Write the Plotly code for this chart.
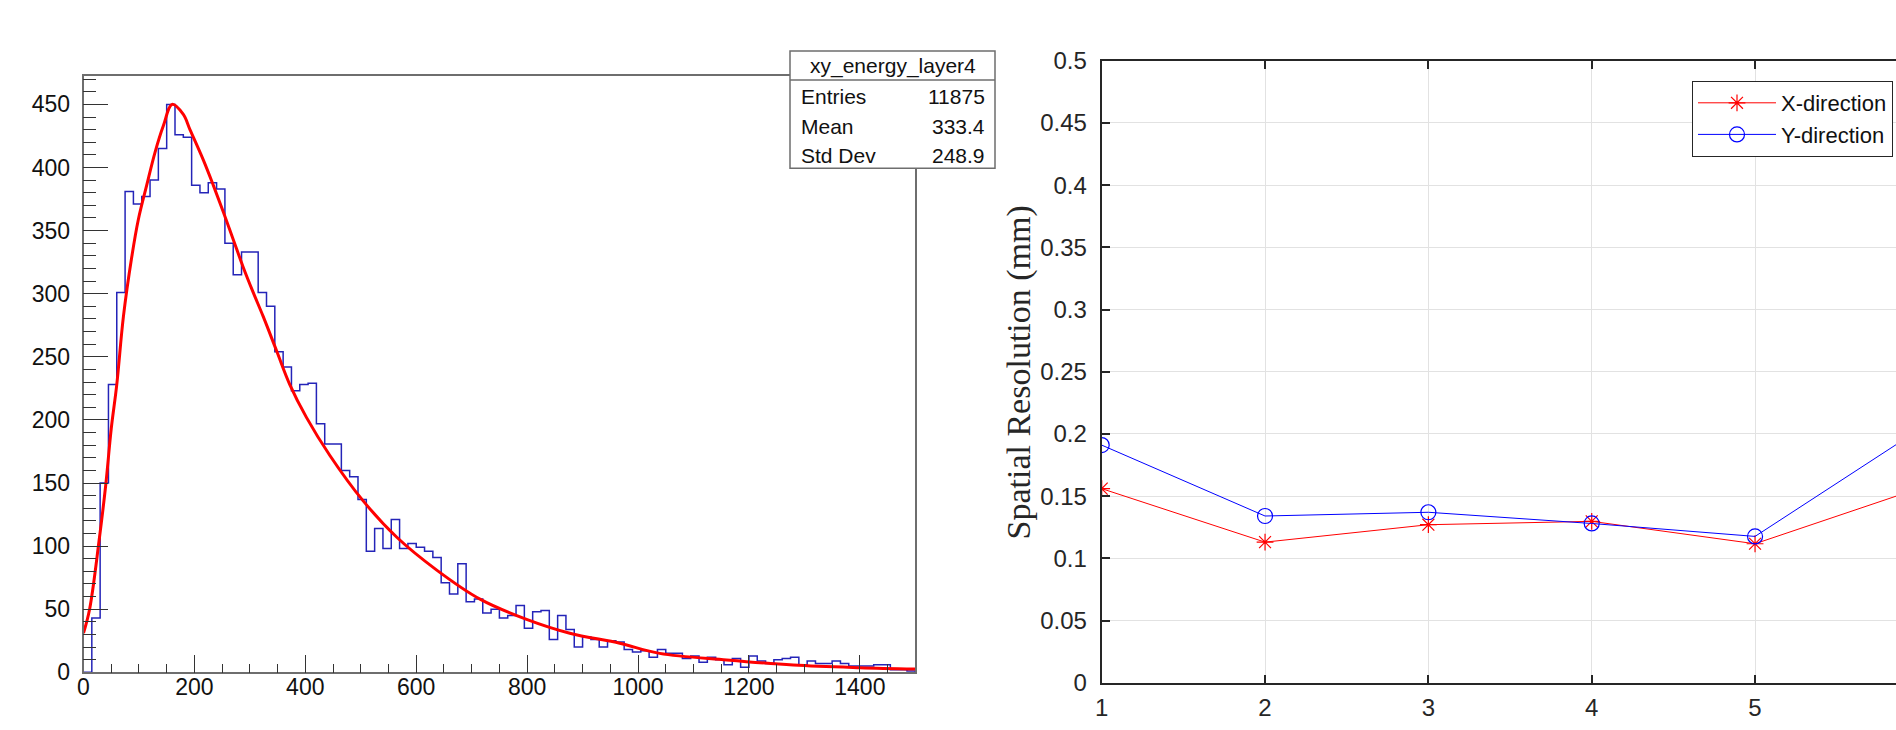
import numpy as np
import plotly.graph_objects as go

W, H = 1896, 730

# ---------------- left panel: ROOT histogram ----------------
hist_range = (0, 1500)
counts = [0, 43, 150, 228, 301, 381, 371, 377, 390, 415,
          450, 426, 424, 386, 380, 388, 383, 340, 315, 333,
          333, 301, 290, 254, 242, 223, 228, 229, 197, 181,
          181, 160, 155, 137, 96, 114, 98, 121, 98, 102,
          99, 96, 91, 71, 62, 86, 56, 58, 47, 50,
          43, 45, 53, 35, 48, 49, 26, 45, 34, 20,
          28, 26, 20, 25, 24, 18, 16, 17, 12, 18,
          15, 15, 11, 13, 8, 12, 10, 6, 11, 4,
          13, 9, 7, 10, 11, 12, 6, 9, 7, 7,
          9, 7, 5, 5, 5, 6, 6, 2, 2, 1]

fit_x = [0, 11, 28, 40, 50, 60, 72, 87, 99, 114, 129, 144, 160, 180, 192, 216,
         234, 252, 270, 288, 306, 324, 348, 372, 402, 444, 504, 565, 637, 715,
         799, 877, 967, 1039, 1160, 1280, 1400, 1500]
fit_y = [31, 50, 104, 148, 193, 228, 282, 329, 359, 386, 412, 433, 450, 442, 430, 406,
         386, 365, 343, 321, 301, 282, 255, 228, 202, 172, 136, 107, 81, 58,
         42, 31, 23, 15, 9.8, 5.8, 3.7, 2.6]

stats_title = "xy_energy_layer4"
stats_names = ["Entries", "Mean", "Std Dev"]
stats_values = ["11875", "333.4", "248.9"]

# ---------------- right panel: spatial resolution ----------------
layers = [1, 2, 3, 4, 5, 6]
res_x = [0.156, 0.113, 0.127, 0.1297, 0.1117, 0.156]
res_y = [0.191, 0.134, 0.137, 0.128, 0.1176, 0.203]

edges = np.linspace(hist_range[0], hist_range[1], len(counts) + 1)
step_x = list(edges) + [edges[-1]]
step_y = list(counts) + [counts[-1], 0]

fig = go.Figure()

fig.add_trace(go.Scatter(x=step_x, y=step_y, mode="lines", line_shape="hv",
                         line=dict(color="#2424b8", width=1.5),
                         xaxis="x", yaxis="y", showlegend=False, hoverinfo="skip"))
fig.add_trace(go.Scatter(x=fit_x, y=fit_y, mode="lines", line_shape="spline",
                         line=dict(color="#ff0000", width=3, smoothing=1.0),
                         xaxis="x", yaxis="y", showlegend=False, hoverinfo="skip"))

fig.add_trace(go.Scatter(x=layers, y=res_x, mode="lines+markers", name="X-direction",
                         line=dict(color="#ff0000", width=1),
                         marker=dict(symbol="asterisk-open", size=14,
                                     line=dict(color="#ff0000", width=1.2)),
                         xaxis="x2", yaxis="y2"))
fig.add_trace(go.Scatter(x=layers, y=res_y, mode="lines+markers", name="Y-direction",
                         line=dict(color="#0000ff", width=1),
                         marker=dict(symbol="circle-open", size=15,
                                     line=dict(color="#0000ff", width=1.2)),
                         xaxis="x2", yaxis="y2"))

def px(v):
    return v / W

def py(v):
    return (H - v) / H

tick_font = dict(family="Liberation Sans, Arial, sans-serif", size=23, color="#111111")
frame_col = "#6e6e6e"

fig.update_layout(
    template="none",
    width=W, height=H,
    margin=dict(l=0, r=0, t=0, b=0, pad=0, autoexpand=False),
    paper_bgcolor="white", plot_bgcolor="white",
    xaxis=dict(domain=[px(83.5), px(915.3)], range=[0, 1500], anchor="y",
               automargin=False,
               showgrid=False, zeroline=False, showline=True, mirror=True,
               linecolor=frame_col, linewidth=1.5,
               ticks="inside", ticklen=18, tickwidth=1.2, tickcolor="#333333",
               tick0=0, dtick=200, tickfont=tick_font, ticklabelstandoff=-7,
               minor=dict(ticks="inside", ticklen=9, dtick=50, tickcolor="#333333",
                          tickwidth=1.2, showgrid=False)),
    yaxis=dict(domain=[py(672.3), py(76)], range=[0, 472.5], anchor="x",
               automargin=False,
               showgrid=False, zeroline=False, showline=True, mirror=True,
               linecolor=frame_col, linewidth=1.5,
               ticks="inside", ticklen=25, tickwidth=1.2, tickcolor="#333333",
               tick0=0, dtick=50, tickfont=tick_font, ticklabelstandoff=7,
               minor=dict(ticks="inside", ticklen=13, dtick=10, tickcolor="#333333",
                          tickwidth=1.2, showgrid=False)),
    xaxis2=dict(domain=[px(1101.7), 1.0], range=[1, 5.863], anchor="y2",
                automargin=False,
                showgrid=True, gridcolor="#e2e2e2", gridwidth=1,
                zeroline=False, showline=True, mirror="ticks",
                linecolor="#262626", linewidth=2,
                ticks="inside", ticklen=8, tickwidth=1.5, tickcolor="#262626",
                tick0=1, dtick=1, ticklabelstandoff=2,
                tickfont=dict(family="Liberation Sans, Arial, sans-serif", size=24, color="#262626")),
    yaxis2=dict(domain=[py(682.7), py(60.7)], range=[0, 0.5], anchor="x2",
                automargin=False,
                showgrid=True, gridcolor="#e2e2e2", gridwidth=1,
                zeroline=False, showline=True, mirror=False,
                linecolor="#262626", linewidth=2,
                ticks="inside", ticklen=8, tickwidth=1.5, tickcolor="#262626",
                tick0=0, dtick=0.05, ticklabelstandoff=8,
                tickfont=dict(family="Liberation Sans, Arial, sans-serif", size=24, color="#262626")),
    legend=dict(x=px(1692), y=py(81), xanchor="left", yanchor="top",
                bgcolor="white", bordercolor="#262626", borderwidth=1,
                font=dict(family="Liberation Sans, Arial, sans-serif", size=22, color="#111111"),
                itemwidth=78, tracegroupgap=0),
    showlegend=True,
)

# y-axis title of right panel
fig.add_annotation(text="Spatial Resolution (mm)", textangle=-90,
                   x=px(1019), y=py(372.5), xref="paper", yref="paper",
                   xanchor="center", yanchor="middle", showarrow=False,
                   font=dict(family="Liberation Serif, Times New Roman, serif", size=34, color="#262626"))

# ROOT statistics box
box_l, box_r, box_t, box_b, box_sep = 790, 995, 51, 168.3, 80
fig.add_shape(type="rect", xref="paper", yref="paper",
              x0=px(box_l), x1=px(box_r), y0=py(box_b), y1=py(box_t),
              line=dict(color=frame_col, width=1.5), fillcolor="white", layer="above")
fig.add_shape(type="line", xref="paper", yref="paper",
              x0=px(box_l), x1=px(box_r), y0=py(box_sep), y1=py(box_sep),
              line=dict(color=frame_col, width=1.5), layer="above")
stat_font = dict(family="Liberation Sans, Arial, sans-serif", size=21, color="#111111")
fig.add_annotation(text=stats_title, x=px((box_l + box_r) / 2), y=py(65.5),
                   xref="paper", yref="paper", xanchor="center", yanchor="middle",
                   showarrow=False, font=stat_font)
row_y = [97, 126.5, 155.5]
for name, val, ry in zip(stats_names, stats_values, row_y):
    fig.add_annotation(text=name, x=px(box_l + 9), y=py(ry), xref="paper", yref="paper",
                       xanchor="left", yanchor="middle", showarrow=False, font=stat_font)
    fig.add_annotation(text=val, x=px(box_r - 8), y=py(ry), xref="paper", yref="paper",
                       xanchor="right", yanchor="middle", showarrow=False, font=stat_font)

fig.write_html("out.html")
